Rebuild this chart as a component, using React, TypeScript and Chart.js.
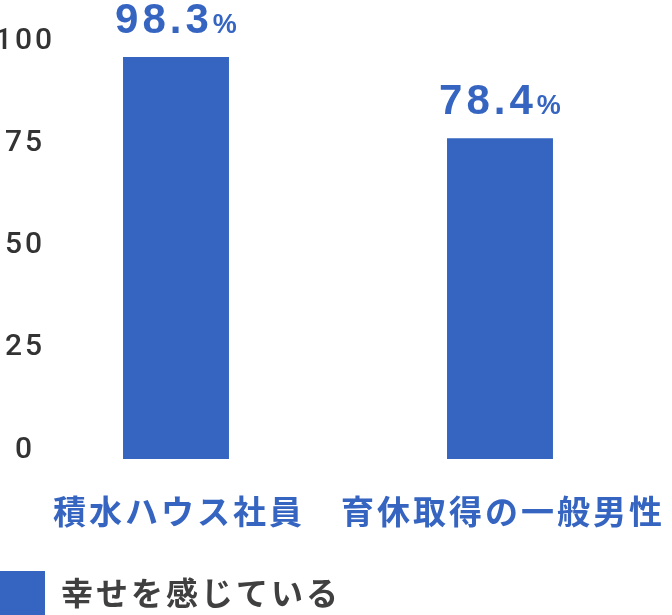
import React, { useEffect, useRef } from 'react';
import { Chart, registerables, Plugin } from 'chart.js';

Chart.register(...registerables);

// データ
const categories = ['積水ハウス社員', '育休取得の一般男性'];
const seriesLabel = '幸せを感じている';
const happyRates = [98.3, 78.4];
const yTicks = [0, 25, 50, 75, 100];

const BLUE = '#3565C0';
const GREY = '#404040';
const TICK_GREY = '#333333';
const JP_FONT = "'Noto Sans CJK JP', sans-serif";
const NUM_FONT = "'Liberation Sans', Arial, sans-serif";

// 文字間隔 (Chart.js には設定がないので ctx に直接)
const spacingPlugin: Plugin<'bar'> = {
  id: 'letterSpacing',
  beforeUpdate(chart) {
    (chart.ctx as any).letterSpacing = '3px';
  },
  beforeDraw(chart) {
    (chart.ctx as any).letterSpacing = '3px';
  },
};

// バーの上の数値ラベル
const valueLabelPlugin: Plugin<'bar'> = {
  id: 'valueLabels',
  afterDatasetsDraw(chart) {
    const { ctx } = chart;
    const meta = chart.getDatasetMeta(0);
    const big = `bold 42px ${NUM_FONT}`;
    const small = `bold 27px ${NUM_FONT}`;
    ctx.save();
    (ctx as any).letterSpacing = '4px';
    ctx.fillStyle = BLUE;
    ctx.textAlign = 'left';
    ctx.textBaseline = 'alphabetic';
    meta.data.forEach((bar, i) => {
      const num = String(happyRates[i]);
      ctx.font = big;
      const w1 = ctx.measureText(num).width;
      ctx.font = small;
      const w2 = ctx.measureText('%').width;
      const x0 = bar.x - (w1 + w2) / 2 + 2;
      const y = bar.y - 24;
      ctx.font = big;
      ctx.fillText(num, x0, y);
      ctx.font = small;
      ctx.fillText('%', x0 + w1, y);
    });
    ctx.restore();
  },
};

export default function App() {
  const canvasRef = useRef<HTMLCanvasElement | null>(null);

  useEffect(() => {
    document.body.style.margin = '0';
    document.body.style.overflow = 'hidden';
    const canvas = canvasRef.current;
    if (!canvas) return;

    const chart = new Chart(canvas, {
      type: 'bar',
      data: {
        labels: categories,
        datasets: [
          {
            label: seriesLabel,
            data: happyRates,
            backgroundColor: BLUE,
            borderWidth: 0,
            categoryPercentage: 1,
            barPercentage: 0.327,
          },
        ],
      },
      options: {
        animation: false,
        responsive: true,
        maintainAspectRatio: false,
        layout: { padding: { top: 50, right: 10, left: 0, bottom: 0 } },
        plugins: {
          legend: {
            position: 'bottom',
            align: 'start',
            maxHeight: 44,
            labels: {
              boxWidth: 45,
              boxHeight: 44,
              padding: 0,
              color: GREY,
              font: { family: JP_FONT, size: 32, weight: 'bold' },
            },
          },
          tooltip: { enabled: false },
        },
        scales: {
          x: {
            grid: { display: false, drawTicks: false },
            border: { display: false },
            ticks: {
              color: BLUE,
              padding: 0,
              labelOffset: 3,
              maxRotation: 0,
              autoSkip: false,
              font: { family: JP_FONT, size: 33, weight: 'bold', lineHeight: 3.15 },
            },
            afterFit: (s: any) => {
              s.height = 112;
            },
          },
          y: {
            min: 0,
            max: 100,
            grid: { display: false, drawTicks: false },
            border: { display: false },
            afterBuildTicks: (s: any) => {
              s.ticks = yTicks.map((value) => ({ value }));
            },
            ticks: {
              color: TICK_GREY,
              mirror: true,
              crossAlign: 'center',
              padding: -19,
              labelOffset: -9,
              font: { family: 'Roboto', size: 30, weight: 500 },
            },
            afterFit: (s: any) => {
              s.width = 14;
            },
          },
        },
      },
      plugins: [spacingPlugin, valueLabelPlugin],
    });

    return () => chart.destroy();
  }, []);

  return (
    <div style={{ position: 'relative', width: 672, height: 615 }}>
      <canvas ref={canvasRef} />
    </div>
  );
}
